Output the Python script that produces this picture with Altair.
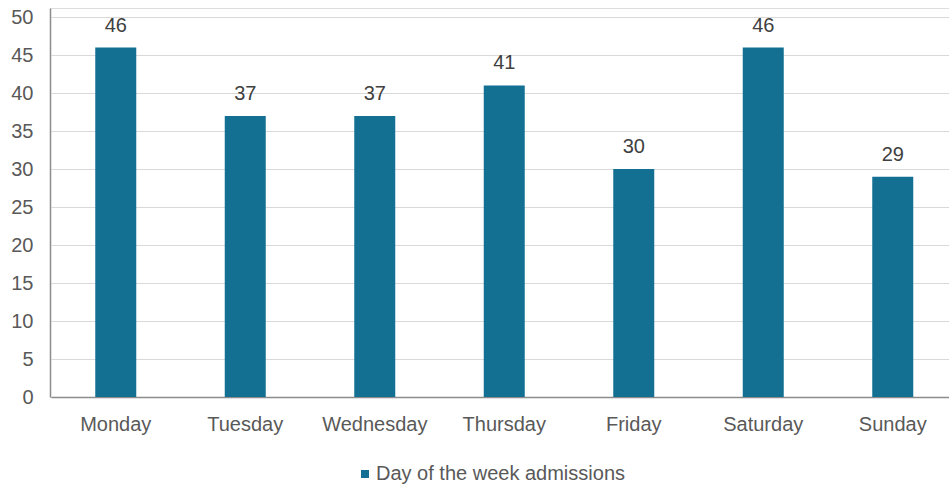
import altair as alt
import pandas as pd

days = ["Monday", "Tuesday", "Wednesday", "Thursday", "Friday", "Saturday", "Sunday"]
admissions = [46, 37, 37, 41, 30, 46, 29]
series_name = "Day of the week admissions"
y_ticks = [0, 5, 10, 15, 20, 25, 30, 35, 40, 45, 50]

bar_color = "#137093"
font = "Liberation Sans"

df = pd.DataFrame({"day": days, "value": admissions, "series": [series_name] * len(days)})

x = alt.X(
    "day:N",
    sort=days,
    scale=alt.Scale(range=[1, 907.5], paddingInner=0, paddingOuter=0),
    axis=alt.Axis(
        title=None,
        labelAngle=0,
        labelFontSize=20,
        labelFont=font,
        labelColor="#595959",
        labelPadding=17,
        ticks=False,
        domainColor="#8c8c8c",
        domainWidth=1.5,
    ),
)

y = alt.Y(
    "value:Q",
    scale=alt.Scale(domain=[0, 51.2], nice=False),
    axis=alt.Axis(
        title=None,
        values=y_ticks,
        labelOverlap=False,
        labelFontSize=20,
        labelFont=font,
        labelColor="#595959",
        labelPadding=17,
        ticks=False,
        domainColor="#8c8c8c",
        domainWidth=1.5,
        gridColor="#d9d9d9",
        gridWidth=1.2,
    ),
)

bars = alt.Chart(df).mark_bar(size=41).encode(
    x=x,
    y=y,
    color=alt.Color(
        "series:N",
        scale=alt.Scale(domain=[series_name], range=[bar_color]),
        legend=alt.Legend(
            title=None,
            orient="none",
            legendX=305,
            legendY=456,
            symbolType="square",
            symbolSize=64,
            symbolStrokeWidth=0,
            labelFontSize=20,
            labelFont=font,
            labelColor="#595959",
            labelOffset=1,
            labelLimit=400,
            padding=0,
        ),
    ),
)

labels = alt.Chart(df).mark_text(
    baseline="alphabetic", dy=-16, fontSize=20, font=font, color="#404040"
).encode(x=x, y=y, text="value:Q")

chart = (
    alt.layer(bars, labels)
    .properties(
        width=899,
        height=389,
        autosize=alt.AutoSizeParams(type="none"),
        padding={"left": 50, "top": 8, "right": 0, "bottom": 91},
    )
    .configure_view(stroke=None)
    .configure(background="white")
)

chart.save("out.html", embed_options={"renderer": "svg", "actions": False})
